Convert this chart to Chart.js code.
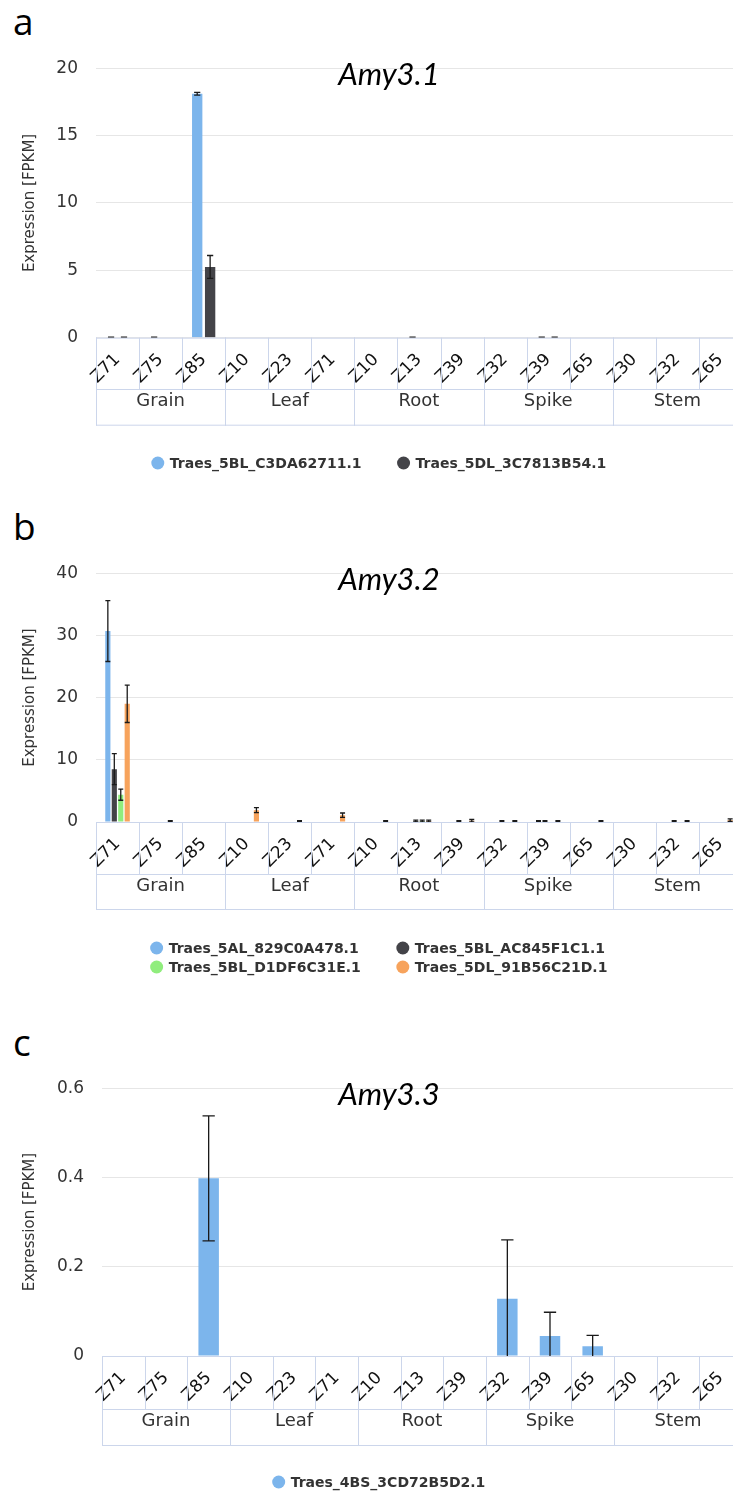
<!DOCTYPE html>
<html>
<head>
<meta charset="utf-8">
<title>Amy3 expression</title>
<script src="https://cdn.jsdelivr.net/npm/chart.js@4.4.0/dist/chart.umd.min.js"></script>
<style>
  html, body { margin: 0; padding: 0; background: #fff; width: 733px; height: 1494px; overflow: hidden; }
  .letter { position: absolute; left: 13px; font-family: 'Open Sans', sans-serif; font-size: 37px; line-height: 1; color: #000; }
  canvas { position: absolute; left: 0; }
</style>
</head>
<body>
<div class="letter" style="top:2px">a</div>
<div class="letter" style="top:507px">b</div>
<div class="letter" style="top:1023px">c</div>
<canvas id="chartA" width="758" height="445" style="top:40px"></canvas>
<canvas id="chartB" width="758" height="440" style="top:545px"></canvas>
<canvas id="chartC" width="758" height="434" style="top:1060px"></canvas>
<script>
// x axis: developmental stage inside each tissue
const stages = ['Z71', 'Z75', 'Z85', 'Z10', 'Z23', 'Z71', 'Z10', 'Z13', 'Z39', 'Z32', 'Z39', 'Z65', 'Z30', 'Z32', 'Z65'];
const tissues = ['Grain', 'Leaf', 'Root', 'Spike', 'Stem'];
const tissueSizes = [3, 3, 3, 3, 3];

// a - Amy3.1
const amy31Genes = ['Traes_5BL_C3DA62711.1', 'Traes_5DL_3C7813B54.1'];
const amy31Values1 = [0.03, 0.03, 18.1, 0, 0, 0, 0, 0.03, 0, 0, 0.03, 0, 0, 0, 0];
const amy31Errors1 = [0.02, 0.02, 0.1, 0, 0, 0, 0, 0.02, 0, 0, 0.02, 0, 0, 0, 0];
const amy31Values2 = [0.03, 0, 5.25, 0, 0, 0, 0, 0, 0, 0, 0.03, 0, 0, 0, 0];
const amy31Errors2 = [0.02, 0, 0.85, 0, 0, 0, 0, 0, 0, 0, 0.02, 0, 0, 0, 0];

// b - Amy3.2
const amy32Genes = ['Traes_5AL_829C0A478.1', 'Traes_5BL_AC845F1C1.1', 'Traes_5BL_D1DF6C31E.1', 'Traes_5DL_91B56C21D.1'];
const amy32Values1 = [30.7, 0, 0, 0, 0, 0, 0, 0, 0, 0, 0.1, 0, 0, 0, 0];
const amy32Errors1 = [4.9, 0, 0, 0, 0, 0, 0, 0, 0, 0, 0.1, 0, 0, 0, 0];
const amy32Values2 = [8.5, 0, 0, 0, 0, 0, 0, 0.15, 0.1, 0.1, 0.1, 0, 0, 0.1, 0];
const amy32Errors2 = [2.5, 0, 0, 0, 0, 0, 0, 0.15, 0.1, 0.1, 0.1, 0, 0, 0.1, 0];
const amy32Values3 = [4.4, 0, 0, 0, 0, 0, 0, 0.15, 0, 0, 0, 0, 0, 0, 0];
const amy32Errors3 = [0.9, 0, 0, 0, 0, 0, 0, 0.15, 0, 0, 0, 0, 0, 0, 0];
const amy32Values4 = [19.0, 0.1, 0, 1.9, 0.1, 1.1, 0.1, 0.15, 0.2, 0.1, 0.1, 0.1, 0, 0.1, 0.3];
const amy32Errors4 = [3.0, 0.1, 0, 0.4, 0.1, 0.35, 0.1, 0.15, 0.2, 0.1, 0.1, 0.1, 0, 0.1, 0.2];

// c - Amy3.3
const amy33Genes = ['Traes_4BS_3CD72B5D2.1'];
const amy33Values1 = [0, 0, 0.398, 0, 0, 0, 0, 0, 0, 0.128, 0.045, 0.022, 0, 0, 0];
const amy33Errors1 = [0, 0, 0.14, 0, 0, 0, 0, 0, 0, 0.132, 0.053, 0.024, 0, 0, 0];

const colors = ['#7cb5ec', '#434348', '#90ed7d', '#f7a35c'];
const lineColor = '#ccd6eb';

// error whiskers on top of the bars
const errorBars = {
    id: 'errorBars',
    afterDatasetsDraw(chart) {
        const {ctx, chartArea, scales: {y}} = chart;
        ctx.save();
        ctx.beginPath();
        ctx.rect(chartArea.left, chartArea.top, chartArea.width, chartArea.height);
        ctx.clip();
        ctx.strokeStyle = '#1a1a1a';
        ctx.lineWidth = 1.3;
        chart.data.datasets.forEach((ds, i) => {
            if (!ds.errors) return;
            chart.getDatasetMeta(i).data.forEach((bar, j) => {
                const e = ds.errors[j];
                if (!e) return;
                const v = ds.data[j];
                const top = y.getPixelForValue(v + e);
                const bot = y.getPixelForValue(v - e);
                const half = Math.max(2.5, bar.width * 0.3);
                ctx.beginPath();
                ctx.moveTo(bar.x, top); ctx.lineTo(bar.x, bot);
                ctx.moveTo(bar.x - half, top); ctx.lineTo(bar.x + half, top);
                ctx.moveTo(bar.x - half, bot); ctx.lineTo(bar.x + half, bot);
                ctx.stroke();
            });
        });
        ctx.restore();
    }
};

// two-level category table under the plot (stage / tissue)
const groupAxis = {
    id: 'groupAxis',
    afterDraw(chart, args, opts) {
        const {ctx, chartArea, scales: {x}} = chart;
        const n = chart.data.labels.length;
        const w = chartArea.width / n;
        const left = chartArea.left, right = chartArea.right;
        const y0 = chartArea.bottom, y1 = y0 + opts.rowHeight, y2 = x.bottom;
        const line = (ax, ay, bx, by) => { ctx.beginPath(); ctx.moveTo(ax, ay); ctx.lineTo(bx, by); ctx.stroke(); };
        ctx.save();
        ctx.strokeStyle = lineColor;
        ctx.lineWidth = 1;
        line(left, y0 + 0.5, right, y0 + 0.5);
        line(left, y1 + 0.5, right, y1 + 0.5);
        line(left, y2 - 0.5, right, y2 - 0.5);
        for (let i = 0; i <= n; i++) {
            const xi = Math.round(left + i * w) + 0.5;
            line(xi, y0, xi, y1);
        }
        ctx.fillStyle = '#333';
        ctx.font = '18px "DejaVu Sans"';
        ctx.textAlign = 'center';
        ctx.textBaseline = 'middle';
        let k = 0;
        tissues.forEach((name, t) => {
            const x0 = left + k * w;
            const x1 = left + (k + tissueSizes[t]) * w;
            line(Math.round(x0) + 0.5, y0, Math.round(x0) + 0.5, y2);
            line(Math.round(x1) + 0.5, y0, Math.round(x1) + 0.5, y2);
            ctx.fillText(name, (x0 + x1) / 2, y1 + 12);
            k += tissueSizes[t];
        });
        ctx.restore();
    }
};

// italic gene name drawn over the plot area
const panelTitle = {
    id: 'panelTitle',
    afterDraw(chart, args, opts) {
        const {ctx, chartArea} = chart;
        ctx.save();
        ctx.fillStyle = '#000';
        ctx.font = 'italic 31px Lato, "Open Sans", sans-serif';
        ctx.textAlign = 'center';
        ctx.textBaseline = 'alphabetic';
        ctx.fillText(opts.text, opts.x, chartArea.top + opts.dy);
        ctx.restore();
    }
};

// legend in fixed columns, centred on the canvas
const geneLegend = {
    id: 'geneLegend',
    afterDraw(chart, args, opts) {
        const {ctx} = chart;
        const ds = chart.data.datasets;
        ctx.save();
        ctx.font = 'bold 14px "DejaVu Sans"';
        ctx.textBaseline = 'middle';
        ctx.textAlign = 'left';
        const nCols = Math.max(...opts.rows.map(r => r.length));
        const colW = [];
        for (let c = 0; c < nCols; c++) {
            colW[c] = Math.max(...opts.rows.filter(r => r[c] !== undefined).map(r => 18 + ctx.measureText(ds[r[c]].label).width));
        }
        const gap = 36;
        const total = colW.reduce((a, b) => a + b, 0) + gap * (nCols - 1);
        opts.rows.forEach((row, ri) => {
            let xx = opts.centerX - total / 2;
            const yy = opts.ys[ri];
            row.forEach((di, c) => {
                ctx.fillStyle = ds[di].backgroundColor;
                ctx.beginPath();
                ctx.arc(xx + 6, yy, 6.5, 0, Math.PI * 2);
                ctx.fill();
                ctx.fillStyle = '#333';
                ctx.fillText(ds[di].label, xx + 18, yy + 1);
                xx += colW[c] + gap;
            });
        });
        ctx.restore();
    }
};

function makeDatasets(genes, values, errors) {
    return genes.map((g, i) => ({
        label: g,
        data: values[i],
        errors: errors[i],
        backgroundColor: colors[i],
        categoryPercentage: 0.6,
        barPercentage: 0.8
    }));
}

// geometry is given in page pixels and converted to canvas offsets
function createPanel(id, cfg) {
    const el = document.getElementById(id);
    const padTop = cfg.plotTop - cfg.canvasTop;
    const xHeight = cfg.tableBottom - cfg.axisY;
    const padBottom = cfg.canvasTop + el.height - cfg.tableBottom;

    new Chart(el, {
        type: 'bar',
        data: {
            labels: stages,
            datasets: makeDatasets(cfg.genes, cfg.values, cfg.errors)
        },
        options: {
            responsive: false,
            animation: false,
            devicePixelRatio: 1,
            layout: { padding: { top: padTop, bottom: padBottom, left: 0, right: 16 } },
            plugins: {
                legend: { display: false },
                tooltip: { enabled: false },
                groupAxis: { rowHeight: cfg.rowLine - cfg.axisY },
                panelTitle: { text: cfg.title, x: 389, dy: 16.5 },
                geneLegend: { rows: cfg.legendRows, ys: cfg.legendYs.map(v => v - cfg.canvasTop), centerX: 379 }
            },
            scales: {
                x: {
                    offset: true,
                    grid: { display: false, drawTicks: false },
                    border: { display: false },
                    ticks: {
                        autoSkip: false,
                        minRotation: 45,
                        maxRotation: 45,
                        padding: 12,
                        color: '#111',
                        font: { family: 'DejaVu Sans', size: 17 }
                    },
                    afterFit(scale) { scale.height = xHeight; }
                },
                y: {
                    min: 0,
                    max: cfg.yMax,
                    grid: { color: '#e6e6e6', drawTicks: false },
                    border: { display: false },
                    ticks: {
                        stepSize: cfg.yStep,
                        padding: 18,
                        color: '#333',
                        font: { family: 'DejaVu Sans', size: 17 }
                    },
                    title: {
                        display: true,
                        text: 'Expression [FPKM]',
                        color: '#333',
                        padding: { top: 21, bottom: 0 },
                        font: { family: 'DejaVu Sans', size: 15 }
                    },
                    afterFit(scale) { scale.width = cfg.plotLeft; }
                }
            }
        },
        plugins: [errorBars, groupAxis, panelTitle, geneLegend]
    });
}

createPanel('chartA', {
    canvasTop: 40, plotTop: 63, axisY: 337.7, rowLine: 389, tableBottom: 425.7, plotLeft: 96,
    yMax: 20, yStep: 5, title: 'Amy3.1',
    genes: amy31Genes,
    values: [amy31Values1, amy31Values2],
    errors: [amy31Errors1, amy31Errors2],
    legendRows: [[0, 1]], legendYs: [463]
});

createPanel('chartB', {
    canvasTop: 545, plotTop: 568, axisY: 822, rowLine: 874, tableBottom: 910, plotLeft: 96,
    yMax: 40, yStep: 10, title: 'Amy3.2',
    genes: amy32Genes,
    values: [amy32Values1, amy32Values2, amy32Values3, amy32Values4],
    errors: [amy32Errors1, amy32Errors2, amy32Errors3, amy32Errors4],
    legendRows: [[0, 1], [2, 3]], legendYs: [948, 967]
});

createPanel('chartC', {
    canvasTop: 1060, plotTop: 1083, axisY: 1356, rowLine: 1409, tableBottom: 1446, plotLeft: 102,
    yMax: 0.6, yStep: 0.2, title: 'Amy3.3',
    genes: amy33Genes,
    values: [amy33Values1],
    errors: [amy33Errors1],
    legendRows: [[0]], legendYs: [1482]
});
</script>
</body>
</html>
